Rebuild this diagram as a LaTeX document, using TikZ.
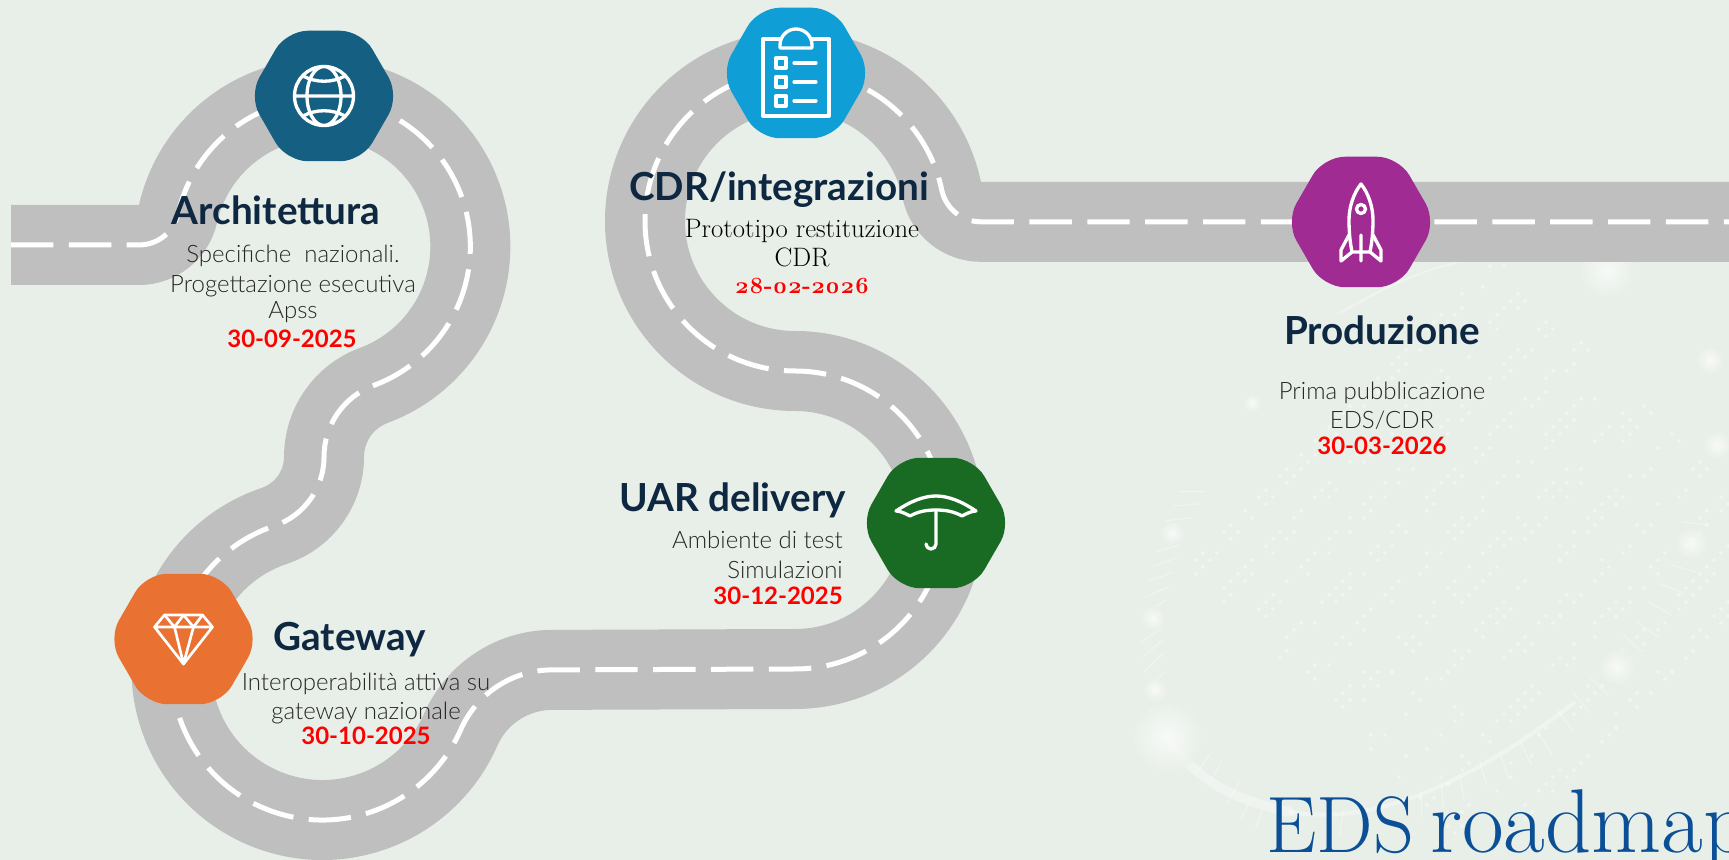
\documentclass[tikz,border=0pt]{standalone}
\usepackage{fontspec}
\setmainfont{Lato}
\newfontfamily\lightfont{Lato Light}
\newfontfamily\didone{Latin Modern Roman}[Numbers=OldStyle]
\usetikzlibrary{shapes.geometric}
\definecolor{bgcolor}{HTML}{E8EFE8}
\definecolor{roadgray}{HTML}{BFBFBF}
\definecolor{titleblue}{HTML}{0E2841}
\definecolor{roadmapblue}{HTML}{0B5096}
\definecolor{archcolor}{HTML}{156082}
\definecolor{gatecolor}{HTML}{E97132}
\definecolor{uarcolor}{HTML}{196B24}
\definecolor{cdrcolor}{HTML}{0F9ED5}
\definecolor{prodcolor}{HTML}{A02B93}
\newcommand{\roadpath}{(11,615) -- (139,615) arc[start angle=-90,end angle=-12.8,radius=40]
  arc[start angle=167.2,end angle=-69.7,radius=148] arc[start angle=110.3,end angle=180,radius=76]
  arc[start angle=0,end angle=-71.4,radius=73] arc[start angle=108.6,end angle=336.3,radius=151]
  arc[start angle=156.3,end angle=90,radius=100] -- (795,191) arc[start angle=-90,end angle=90,radius=149]
  arc[start angle=270,end angle=11.9,radius=150] arc[start angle=191.9,end angle=270,radius=40] -- (1740,638)}

\begin{document}
\begin{tikzpicture}[x=0.75pt,y=0.75pt,
    hex node/.style={regular polygon,regular polygon sides=6,minimum size=113pt,inner sep=0pt,rounded corners=16pt},
    title node/.style={anchor=base,font=\fontsize{29}{29}\selectfont\bfseries,text=titleblue,inner sep=0pt},
    body node/.style={anchor=base,font=\fontsize{18}{18}\selectfont\lightfont,text=black!85,inner sep=0pt},
    serif node/.style={anchor=base,font=\fontsize{20}{20}\selectfont\didone,text=black,inner sep=0pt},
    date node/.style={anchor=base,font=\fontsize{18}{18}\selectfont\bfseries,text=red,inner sep=0pt},
    icon/.style={draw=white,line width=2.5pt,line join=round,line cap=round},
    faint/.style={white,opacity=0.4}]
  \clip (0,0) rectangle (1729,860);
  \fill[bgcolor] (0,0) rectangle (1729,860);
  % background pattern
  \pgfmathsetseed{11}
  \foreach \u in {-22,...,22}{
    \foreach \v in {-22,...,22}{
      \pgfmathsetmacro{\keep}{(\u*\u+\v*\v<918 && mod(abs(\v),4)<2 && rnd<0.5) ? 1 : 0}
      \ifdim\keep pt>0.5pt
        \fill[faint] ({1490+(\u+\v)*7},{300+(\u-\v)*7}) +(-2.3,0) -- +(0,2.3) -- +(2.3,0) -- +(0,-2.3) -- cycle;
      \fi
    }
  }
  \foreach \x/\y/\a in {185/35/0,170/75/5,150/118/7,125/205/15,118/245/20,105/290/20,97/335/25,90/380/30,82/465/35,85/505/40,85/550/45,90/605/45,100/665/50,110/710/50,215/850/55,245/880/60,290/940/60,325/985/65,360/1010/70,570/1030/80,775/975/90,830/945/95,880/920/100,935/880/105,990/860/110,1045/820/115,1095/790/120,1145/720/125,1190/670/130,1235/620/135,1320/490/140,1360/450/145,1390/385/150,1420/325/160,1450/265/165,1480/130/175}
    \draw[faint,line width=0.7pt] ({1120+\x/2.575},{380-\y/3})++(\a:13) -- ++(\a+180:26);
  \draw[white,opacity=0.35,line width=7pt,line cap=round] (1172,115) .. controls (1195,85) and (1225,62) .. (1290,48);
  \draw[white,opacity=0.35,line width=3pt,line cap=round] (1290,48) .. controls (1370,35) and (1460,70) .. (1574,157);
  \draw[white,opacity=0.35,line width=1.5pt] (1340,547) .. controls (1380,570) and (1420,590) .. (1457,597);
  \foreach \x/\y/\s in {1167/123/36,1172/327/12,1153/242/12,1155/170/12,1691/317/16,1617/193/18,1607/590/28,1252/457/9,1710/500/14,1717/415/14}
    \shade[inner color=white,outer color=bgcolor,opacity=0.7] (\x,\y) circle (\s);

  % road
  \draw[roadgray,line width=60pt] \roadpath;
  \draw[white,line width=3.75pt,dash pattern=on 31.8pt off 11.6pt] \roadpath;

  % stops
  \node[hex node,fill=archcolor] (arch) at (324,764) {};
  \node[hex node,fill=gatecolor] (gate) at (183.5,221) {};
  \node[hex node,fill=uarcolor] (uar) at (936,337) {};
  \node[hex node,fill=cdrcolor] (cdr) at (796,787) {};
  \node[hex node,fill=prodcolor] (prod) at (1361,638) {};

  % globe
  \begin{scope}[shift={(arch)}]
    \draw[icon] (0,0) circle (29.5) (0,29.5) arc[start angle=90,end angle=-270,x radius=17,y radius=29.5] (-29.5,0) -- (29.5,0);
    \draw[icon] (-21,20) .. controls (-8,13) and (8,13) .. (21,20) (-21,-20) .. controls (-8,-13) and (8,-13) .. (21,-20);
  \end{scope}
  % diamond
  \begin{scope}[shift={(gate)}]
    \draw[icon,line width=2pt] (-19,24) -- (19,24) -- (29,12) -- (0,-25) -- (-29,12) -- cycle (-29,12) -- (29,12);
    \draw[icon,line width=2pt] (-19,24) -- (-9,12) -- (0,24) -- (10,12) -- (19,24) (-9,12) -- (0,-25) -- (10,12);
  \end{scope}
  % umbrella
  \begin{scope}[shift={(uar)}]
    \draw[icon] (-40,12) .. controls (-25,22) and (-12,27) .. (0,27) .. controls (12,27) and (25,22) .. (40,12)
      .. controls (35,12) and (30,9) .. (26,7) .. controls (17,12) and (8,13) .. (0,13) .. controls (-8,13) and (-17,12) .. (-26,7)
      .. controls (-30,9) and (-35,12) .. (-40,12) -- cycle;
    \draw[icon] (0,13) -- (0,-21) arc[start angle=0,end angle=-180,radius=5];
  \end{scope}
  % clipboard
  \begin{scope}[shift={(cdr)}]
    \draw[icon] (-16,34) -- (-33,34) -- (-33,-43) -- (33,-43) -- (33,34) -- (16,34);
    \draw[icon] (-16,25) -- (16,25) -- (16,28) arc[start angle=0,end angle=180,radius=16] -- cycle;
    \foreach \y in {10,-9,-28}{
      \draw[icon] (-20,\y-5) rectangle (-10,\y+5);
      \draw[icon] (-2,\y) -- (20,\y);
    }
  \end{scope}
  % rocket
  \begin{scope}[shift={(prod)}]
    \draw[icon] (0,38) .. controls (-8,28) and (-12,14) .. (-12,2) .. controls (-12,-10) and (-11,-20) .. (-9,-30) -- (9,-30)
      .. controls (11,-20) and (12,-10) .. (12,2) .. controls (12,14) and (8,28) .. (0,38) -- cycle;
    \draw[icon] (0,13) circle (4.5) (0,-13) -- (0,-39);
    \draw[icon] (-12,-13) -- (-20,-28) -- (-20,-39) -- (-9,-30) (12,-13) -- (20,-28) -- (20,-39) -- (9,-30);
  \end{scope}

  % labels
  \node[title node] (arch title) at (276,635) {Architettura};
  \node[body node] (arch one) at (293,597.5) {Specifiche\ \ nazionali.};
  \node[body node] (arch two) at (293,567.5) {Progettazione esecutiva};
  \node[body node] (arch three) at (293,541.5) {Apss};
  \node[date node] (arch date) at (292,512) {30-09-2025};

  \node[title node] (gate title) at (349.5,209) {Gateway};
  \node[body node] (gate one) at (366,169.5) {Interoperabilità attiva su};
  \node[body node] (gate two) at (366,140.5) {gateway nazionale};
  \node[date node] (gate date) at (366,115) {30-10-2025};

  \node[title node,anchor=base east] (uar title) at (846,348) {UAR delivery};
  \node[body node,anchor=base east] (uar one) at (843,311.5) {Ambiente di test};
  \node[body node,anchor=base east] (uar two) at (843,281.5) {Simulazioni};
  \node[date node,anchor=base east] (uar date) at (843,255) {30-12-2025};

  \node[title node] (cdr title) at (779,659) {CDR/integrazioni};
  \node[serif node] (cdr one) at (802,622) {Prototipo restituzione};
  \node[serif node] (cdr two) at (802,593) {CDR};
  \node[serif node,font=\fontsize{17.5}{17.5}\selectfont\didone\bfseries,text=red] (cdr date) at (802,566) {28-02-2026};

  \node[title node] (prod title) at (1382,515) {Produzione};
  \node[body node] (prod one) at (1382,460.5) {Prima pubblicazione};
  \node[body node] (prod two) at (1382,431.5) {EDS/CDR};
  \node[date node] (prod date) at (1382,405) {30-03-2026};

  \node[anchor=base west,font=\fontsize{60}{60}\selectfont\didone,text=roadmapblue,inner sep=0pt] (roadmap) at (1266,7) {EDS\hspace{-6pt} {\fontsize{68}{68}\selectfont roadmap}};
\end{tikzpicture}
\end{document}
